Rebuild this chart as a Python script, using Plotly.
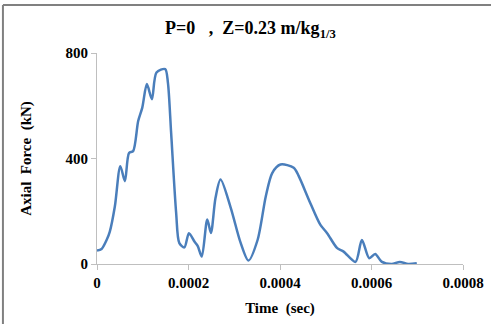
import plotly.graph_objects as go

time_s = [0, 1.0e-5, 2.1e-5, 2.8e-5, 3.9e-5, 5.1e-5, 6.1e-5, 7.0e-5, 7.9e-5, 9.0e-5,
          9.9e-5, 1.09e-4, 1.20e-4, 1.30e-4, 1.49e-4, 1.55e-4, 1.62e-4, 1.73e-4, 1.80e-4,
          1.91e-4, 2.01e-4, 2.13e-4, 2.20e-4, 2.29e-4, 2.41e-4, 2.49e-4, 2.59e-4, 2.70e-4,
          2.92e-4, 3.14e-4, 3.31e-4, 3.51e-4, 3.69e-4, 3.83e-4, 4.01e-4, 4.30e-4, 4.41e-4,
          4.63e-4, 4.88e-4, 5.03e-4, 5.25e-4, 5.39e-4, 5.65e-4, 5.79e-4, 5.95e-4, 6.08e-4,
          6.22e-4, 6.44e-4, 6.62e-4, 6.80e-4, 6.99e-4]
force_kN = [51, 57, 91, 123, 218, 371, 314, 421, 428, 542,
            593, 682, 625, 726, 739, 688, 498, 194, 79,
            63, 117, 85, 69, 28, 169, 118, 250, 320,
            215, 80, 13, 91, 257, 345, 377, 365, 333,
            244, 149, 117, 60, 47, 8, 91, 22, 38,
            9, 0, 8, 0, 3]

x_ticks = [0, 0.0002, 0.0004, 0.0006, 0.0008]
x_tick_text = ["0", "0.0002", "0.0004", "0.0006", "0.0008"]
y_ticks = [0, 400, 800]

font_family = "Liberation Serif"

fig = go.Figure()
fig.add_trace(go.Scatter(
    x=time_s, y=force_kN, mode="lines",
    line=dict(color="#4A7EBB", width=2.5, shape="spline", smoothing=0.8),
    showlegend=False,
))

axis_common = dict(
    showgrid=False, zeroline=False, showline=True, linecolor="#BFBFBF", linewidth=1,
    ticks="outside", ticklen=5, tickcolor="#BFBFBF",
    tickfont=dict(family=font_family, size=15, color="#000000", weight="bold"),
    automargin=False,
)

fig.update_layout(
    width=491, height=324,
    margin=dict(l=97, r=28, t=53, b=60),
    paper_bgcolor="white", plot_bgcolor="white",
    title=dict(
        text="<b>P=0&nbsp;&nbsp;&nbsp;,&nbsp;&nbsp;Z=0.23 m/kg<sub>1/3</sub></b>",
        x=0.51, xanchor="center", y=0.915, yanchor="middle",
        font=dict(family=font_family, size=18, color="#000000"),
    ),
    xaxis=dict(
        range=[0, 0.0008], tickvals=x_ticks, ticktext=x_tick_text,
        title=dict(text="<b>Time  (sec)</b>", font=dict(family=font_family, size=15, color="#000000"), standoff=12),
        **axis_common,
    ),
    yaxis=dict(
        range=[0, 800], tickvals=y_ticks,
        title=dict(text="<b>Axial  Force  (kN)</b>", font=dict(family=font_family, size=15, color="#000000"), standoff=30),
        **axis_common,
    ),
    shapes=[
        dict(type="line", xref="paper", yref="paper", x0=-0.257, x1=1.08, y0=1.2275, y1=1.2275,
             layer="above", line=dict(color="#808080", width=2)),
        dict(type="line", xref="paper", yref="paper", x0=-0.257, x1=-0.257, y0=-0.29, y1=1.2275,
             layer="above", line=dict(color="#808080", width=2)),
    ],
)

fig.write_html(
    "out.html",
    config={"displayModeBar": False},
    post_script="document.body.style.margin='0';document.body.style.overflow='hidden';",
)
